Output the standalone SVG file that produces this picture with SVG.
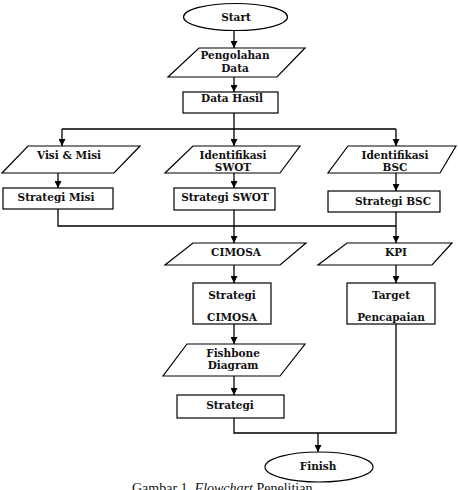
<svg xmlns="http://www.w3.org/2000/svg" width="458" height="490" viewBox="0 0 458 490">
<style>
.s{fill:#fff;stroke:#000;stroke-width:1.2}
.t{font-family:"DejaVu Serif","Liberation Serif",serif;font-weight:bold;font-size:10.5px;text-anchor:middle;fill:#111}
.c{fill:none;stroke:#000;stroke-width:1.3}
.cap{font-family:"Liberation Serif",serif;font-size:14px;fill:#111}
</style>
<defs>
<marker id="ah" markerUnits="userSpaceOnUse" markerWidth="8" markerHeight="7" refX="7" refY="3.5" orient="auto">
<path d="M0,0 L7,3.5 L0,7 z" fill="#000"/>
</marker>
</defs>
<rect width="458" height="490" fill="#fff"/>
<g id="connectors">
<line class="c" x1="234" y1="30" x2="234" y2="48" marker-end="url(#ah)"/>
<line class="c" x1="234" y1="77" x2="234" y2="92" marker-end="url(#ah)"/>
<line class="c" x1="234" y1="113" x2="234" y2="129"/>
<line class="c" x1="62" y1="129" x2="396" y2="129"/>
<line class="c" x1="62" y1="129" x2="62" y2="146" marker-end="url(#ah)"/>
<line class="c" x1="234" y1="129" x2="234" y2="146" marker-end="url(#ah)"/>
<line class="c" x1="396" y1="129" x2="396" y2="146" marker-end="url(#ah)"/>
<line class="c" x1="58" y1="173" x2="58" y2="188" marker-end="url(#ah)"/>
<line class="c" x1="234" y1="173" x2="234" y2="188" marker-end="url(#ah)"/>
<line class="c" x1="396" y1="173" x2="396" y2="191" marker-end="url(#ah)"/>
<polyline class="c" points="58,209 58,226 396,226"/>
<line class="c" x1="234" y1="210" x2="234" y2="226"/>
<line class="c" x1="396" y1="212" x2="396" y2="226"/>
<line class="c" x1="234" y1="226" x2="234" y2="243" marker-end="url(#ah)"/>
<line class="c" x1="396" y1="226" x2="396" y2="243" marker-end="url(#ah)"/>
<line class="c" x1="234" y1="265" x2="234" y2="283" marker-end="url(#ah)"/>
<line class="c" x1="396" y1="265" x2="396" y2="283" marker-end="url(#ah)"/>
<line class="c" x1="234" y1="324" x2="234" y2="344" marker-end="url(#ah)"/>
<line class="c" x1="234" y1="376" x2="234" y2="395" marker-end="url(#ah)"/>
<polyline class="c" points="234,418 234,433 396,433 396,324"/>
<line class="c" x1="318" y1="433" x2="318" y2="452" marker-end="url(#ah)"/>
</g>
<g id="start">
<ellipse class="s" cx="235.5" cy="17" rx="52" ry="13.5"/>
<text class="t" x="236" y="21">Start</text>
</g>
<g id="pengolahan">
<polygon class="s" points="199,48 305,48 277,77 168,77"/>
<text class="t" x="235" y="59">Pengolahan</text>
<text class="t" x="235" y="72">Data</text>
</g>
<g id="datahasil">
<rect class="s" x="183" y="92" width="95" height="21"/>
<text class="t" x="232" y="101.5">Data Hasil</text>
</g>
<g id="visimisi">
<polygon class="s" points="28,146 140,146 114,173 2,173"/>
<text class="t" x="69" y="159">Visi &amp; Misi</text>
</g>
<g id="strategimisi">
<rect class="s" x="3" y="188" width="110" height="21"/>
<text class="t" x="56" y="201">Strategi Misi</text>
</g>
<g id="swot">
<polygon class="s" points="193,146 300,146 280,173 165,173"/>
<text class="t" x="233" y="159">Identifikasi</text>
<text class="t" x="233" y="170.5">SWOT</text>
</g>
<g id="strategiswot">
<rect class="s" x="174" y="188" width="101" height="22"/>
<text class="t" x="225" y="201">Strategi SWOT</text>
</g>
<g id="bsc">
<polygon class="s" points="348,146 456,146 440,173 328,173"/>
<text class="t" x="395" y="159">Identifikasi</text>
<text class="t" x="395" y="171">BSC</text>
</g>
<g id="strategibsc">
<rect class="s" x="328" y="191" width="112" height="21"/>
<text class="t" x="393" y="205">Strategi BSC</text>
</g>
<g id="cimosa">
<polygon class="s" points="193,243 306,243 280,265 165,265"/>
<text class="t" x="236" y="256">CIMOSA</text>
</g>
<g id="kpi">
<polygon class="s" points="347,243 452,243 432,265 318,265"/>
<text class="t" x="396" y="256">KPI</text>
</g>
<g id="strategicimosa">
<rect class="s" x="193" y="283" width="78" height="41"/>
<text class="t" x="232" y="299">Strategi</text>
<text class="t" x="232" y="321">CIMOSA</text>
</g>
<g id="target">
<rect class="s" x="347" y="283" width="88" height="41"/>
<text class="t" x="391" y="299">Target</text>
<text class="t" x="391" y="321">Pencapaian</text>
</g>
<g id="fishbone">
<polygon class="s" points="187,344 305,344 280,376 163,376"/>
<text class="t" x="233" y="357">Fishbone</text>
<text class="t" x="233" y="369">Diagram</text>
</g>
<g id="strategi">
<rect class="s" x="177" y="395" width="107" height="23"/>
<text class="t" x="230" y="409">Strategi</text>
</g>
<g id="finish">
<ellipse class="s" cx="319" cy="467" rx="54" ry="15"/>
<text class="t" x="318" y="470">Finish</text>
</g>
<text class="cap" x="132" y="493">Gambar 1. <tspan font-style="italic">Flowchart</tspan> Penelitian</text>
</svg>
